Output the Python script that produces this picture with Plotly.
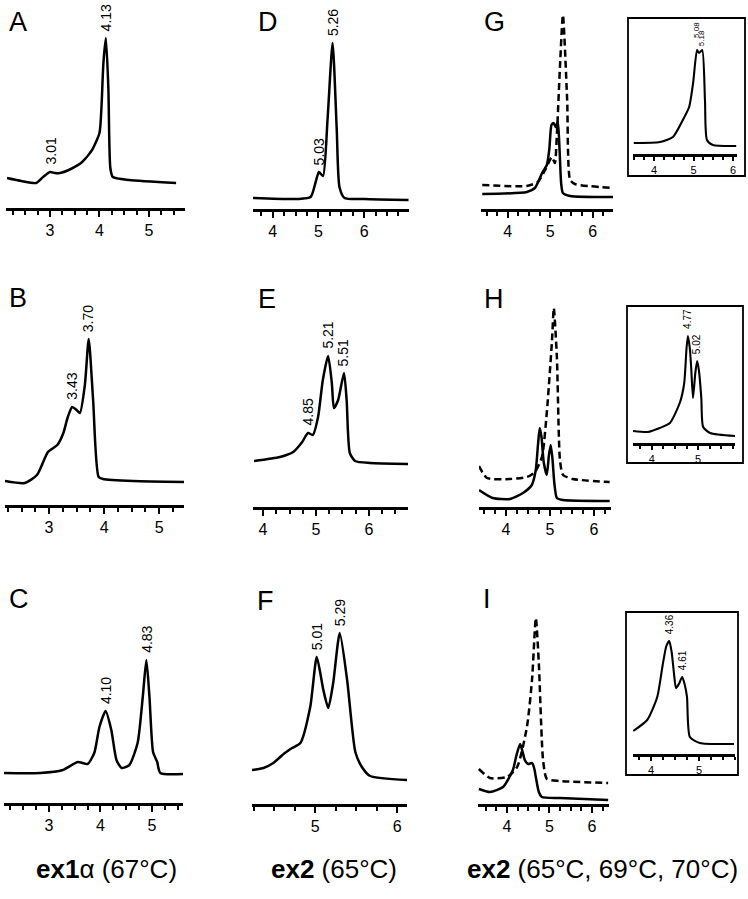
import plotly.graph_objects as go
import numpy as np

W, H = 748, 899

# ---------------- data (elution time vs. signal, arbitrary units) ----------------
# A: ex1α 67°C
A_x = [2.13, 2.42, 2.72, 2.86, 3.0, 3.1, 3.2, 3.42, 3.65, 3.85, 4.0, 4.04, 4.08, 4.13, 4.18, 4.22, 4.27, 4.6, 5.55]
A_y = [30, 27, 25, 31, 36, 35, 35, 39, 46, 58, 75, 100, 145, 170, 120, 40, 31, 28, 25]
A_labels = [(3.0, "3.01"), (4.13, "4.13")]

# B
B_x = [2.2, 2.56, 2.78, 2.98, 3.15, 3.26, 3.34, 3.42, 3.5, 3.56, 3.65, 3.72, 3.8, 3.9, 3.98, 4.53, 5.45]
B_y = [24, 22, 30, 53, 60, 72, 88, 98, 95, 92, 120, 166, 105, 28, 26, 24, 23]
B_labels = [(3.42, "3.43"), (3.72, "3.70")]

# C
C_x = [2.13, 2.83, 3.27, 3.56, 3.75, 3.88, 3.98, 4.1, 4.21, 4.31, 4.41, 4.56, 4.72, 4.82, 4.89, 4.95, 5.02, 5.1, 5.16, 5.6]
C_y = [30, 30, 33, 41, 39, 50, 76, 92, 73, 43, 35, 38, 60, 106, 143, 106, 51, 41, 30, 29]
C_labels = [(4.1, "4.10"), (4.89, "4.83")]

# D: ex2 65°C
D_x = [3.57, 4.54, 4.83, 4.94, 5.01, 5.1, 5.2, 5.31, 5.4, 5.46, 5.57, 6.01, 6.97]
D_y = [11, 10, 12, 27, 37, 33, 90, 166, 80, 22, 11, 10, 9]
D_labels = [(5.01, "5.03"), (5.31, "5.26")]

# E
E_x = [3.83, 4.32, 4.57, 4.74, 4.85, 4.94, 5.04, 5.13, 5.23, 5.30, 5.34, 5.42, 5.53, 5.58, 5.64, 5.74, 6.02, 6.74]
E_y = [46, 50, 55, 65, 74, 72, 90, 127, 151, 124, 99, 107, 134, 107, 54, 46, 44, 43]
E_labels = [(4.85, "4.85"), (5.23, "5.21"), (5.53, "5.51")]

# F
F_x = [4.23, 4.37, 4.49, 4.63, 4.72, 4.82, 4.94, 5.02, 5.10, 5.16, 5.22, 5.30, 5.39, 5.49, 5.57, 5.67, 6.12]
F_y = [34, 36, 41, 51, 56, 61, 97, 147, 114, 96, 121, 171, 124, 52, 37, 28, 24]
F_labels = [(5.02, "5.01"), (5.30, "5.29")]

# G: ex2 65°C (solid) / 69°C (dashed)
G_solid_x = [3.40, 4.45, 4.64, 4.81, 4.92, 4.98, 5.03, 5.08, 5.13, 5.18, 5.22, 5.26, 5.30, 5.47, 6.48]
G_solid_y = [15, 17, 21, 36, 44, 60, 84, 86, 82, 87, 60, 25, 16, 13, 12]
G_dash_x = [3.40, 4.45, 4.71, 4.88, 5.04, 5.11, 5.16, 5.23, 5.30, 5.40, 5.47, 5.58, 6.48]
G_dash_y = [24, 23, 27, 39, 52, 46, 76, 142, 194, 109, 29, 25, 21]
# G inset
Gi_x = [3.49, 4.15, 4.48, 4.73, 4.89, 4.99, 5.09, 5.14, 5.22, 5.29, 5.34, 5.49, 6.08]
Gi_y = [11, 12, 17, 34, 47, 71, 104, 101, 104, 54, 14, 9, 8]
Gi_labels = [(5.08, "5.08"), (5.22, "5.18")]

# H
H_solid_x = [3.39, 3.70, 4.09, 4.39, 4.59, 4.68, 4.73, 4.77, 4.81, 4.86, 4.93, 4.98, 5.02, 5.06, 5.10, 5.16, 5.30, 6.36]
H_solid_y = [17, 9, 8, 14, 22, 37, 62, 79, 70, 45, 32, 52, 62, 48, 25, 9, 7, 6]
H_dash_x = [3.39, 3.57, 4.09, 4.48, 4.66, 4.82, 4.93, 5.05, 5.09, 5.16, 5.23, 5.30, 5.52, 6.36]
H_dash_y = [41, 29, 28, 30, 35, 50, 94, 167, 199, 150, 47, 32, 28, 25]
# H inset
Hi_x = [3.59, 3.91, 4.17, 4.39, 4.61, 4.70, 4.75, 4.78, 4.82, 4.85, 4.89, 4.94, 4.98, 5.02, 5.07, 5.11, 5.26, 5.80]
Hi_y = [12, 11, 15, 20, 41, 60, 95, 107, 95, 76, 45, 70, 82, 72, 45, 16, 10, 7]
Hi_labels = [(4.78, "4.77"), (4.98, "5.02")]

# I
I_solid_x = [3.34, 3.60, 3.91, 4.14, 4.22, 4.31, 4.37, 4.42, 4.50, 4.59, 4.64, 4.68, 4.75, 4.82, 5.25, 6.38]
I_solid_y = [15, 12, 17, 34, 48, 60, 52, 44, 40, 41, 36, 27, 12, 7, 6, 4]
I_dash_x = [3.34, 3.60, 4.00, 4.24, 4.47, 4.59, 4.68, 4.75, 4.85, 4.94, 5.25, 6.38]
I_dash_y = [35, 26, 27, 37, 77, 124, 186, 141, 44, 25, 23, 21]
# I inset
Ii_x = [3.63, 3.92, 4.13, 4.25, 4.32, 4.38, 4.43, 4.48, 4.52, 4.58, 4.65, 4.70, 4.75, 4.81, 5.02, 5.73]
Ii_y = [23, 34, 57, 91, 108, 113, 102, 80, 66, 70, 77, 70, 57, 17, 11, 10]
Ii_labels = [(4.38, "4.36"), (4.65, "4.61")]

# --------------- panel geometry (pixels) ----------------
panels = [
    dict(px=(6, 185), axis=208, top=0, xr=(2.11, 5.73), tr=[(A_x, A_y, "solid")], lab=A_labels, letter=("A", 7, 5)),
    dict(px=(5, 184), axis=505, top=290, xr=(2.2, 5.45), tr=[(B_x, B_y, "solid")], lab=B_labels, letter=("B", 7, 281)),
    dict(px=(4, 183), axis=803, top=580, xr=(2.13, 5.6), tr=[(C_x, C_y, "solid")], lab=C_labels, letter=("C", 7, 582)),
    dict(px=(253, 409), axis=209, top=0, xr=(3.57, 6.98), tr=[(D_x, D_y, "solid")], lab=D_labels, letter=("D", 256, 5)),
    dict(px=(253, 408), axis=507, top=290, xr=(3.81, 6.74), tr=[(E_x, E_y, "solid")], lab=E_labels, letter=("E", 256, 282)),
    dict(px=(252, 407), axis=804, top=580, xr=(4.23, 6.12), tr=[(F_x, F_y, "solid")], lab=F_labels, letter=("F", 255, 584)),
    dict(px=(481, 613), axis=209, top=0, xr=(3.37, 6.48),
         tr=[(G_dash_x, G_dash_y, "dash"), (G_solid_x, G_solid_y, "solid")], lab=[], letter=("G", 482, 5)),
    dict(px=(479, 611), axis=507, top=290, xr=(3.39, 6.39),
         tr=[(H_dash_x, H_dash_y, "dash"), (H_solid_x, H_solid_y, "solid")], lab=[], letter=("H", 482, 282)),
    dict(px=(478, 609), axis=804, top=580, xr=(3.32, 6.4),
         tr=[(I_dash_x, I_dash_y, "dash"), (I_solid_x, I_solid_y, "solid")], lab=[], letter=("I", 481, 582)),
    # insets
    dict(px=(633, 737), axis=154, top=20, xr=(3.47, 6.1), tr=[(Gi_x, Gi_y, "solid")], lab=Gi_labels,
         inset=True, box=(628, 18, 745, 176), shifts=[13, 2], lsize=8),
    dict(px=(633, 735), axis=443, top=308, xr=(3.59, 5.8), tr=[(Hi_x, Hi_y, "solid")], lab=Hi_labels,
         inset=True, box=(627, 306, 743, 463), lsize=10),
    dict(px=(633, 735), axis=754, top=614, xr=(3.625, 5.75), tr=[(Ii_x, Ii_y, "solid")], lab=Ii_labels,
         inset=True, box=(626, 612, 738, 775), lsize=10),
]

FONT = "Liberation Sans, Arial, Helvetica, sans-serif"
fig = go.Figure()
layout = dict(width=W, height=H, margin=dict(l=0, r=0, t=0, b=0, pad=0),
              paper_bgcolor="white", plot_bgcolor="white", showlegend=False,
              font=dict(family=FONT, color="black"), annotations=[], shapes=[])

for i, p in enumerate(panels):
    n = i + 1
    sfx = "" if n == 1 else str(n)
    inset = p.get("inset", False)
    for (xs, ys, dash) in p["tr"]:
        fig.add_trace(go.Scatter(
            x=xs, y=ys, mode="lines", xaxis="x" + sfx, yaxis="y" + sfx,
            line=dict(color="black", width=2.1 if inset else 2.5, dash=("7px,4px" if dash == "dash" else "solid"),
                      shape="spline", smoothing=0.6),
            hoverinfo="skip"))
    yh = p["axis"] - p["top"]
    layout["xaxis" + sfx] = dict(
        domain=[p["px"][0] / W, p["px"][1] / W], anchor="y" + sfx, range=list(p["xr"]),
        showgrid=False, zeroline=False, showline=True, linecolor="black",
        linewidth=2.5 if inset else 3, ticks="outside", tick0=0, dtick=1,
        ticklen=4 if inset else 6, tickwidth=1.5, tickcolor="black",
        tickfont=dict(size=11 if inset else 16, family=FONT, color="black"),
        minor=dict(ticks="outside", dtick=0.25, tick0=0, ticklen=3 if inset else 4,
                   tickwidth=1.5, tickcolor="black", showgrid=False),
        fixedrange=True)
    layout["yaxis" + sfx] = dict(
        domain=[1 - p["axis"] / H, 1 - p["top"] / H], anchor="x" + sfx, range=[0, yh],
        visible=False, fixedrange=True)
    # peak labels
    shifts = p.get("shifts", [5] * len(p["lab"]))
    for (lx, txt), sh in zip(p["lab"], shifts):
        xs, ys = p["tr"][-1][0], p["tr"][-1][1]
        ly = float(np.interp(lx, xs, ys))
        layout["annotations"].append(dict(
            x=lx, y=ly, xref="x" + sfx, yref="y" + sfx, text=txt, showarrow=False,
            textangle=-90, xanchor="center", yanchor="bottom", yshift=sh,
            font=dict(size=p.get("lsize", 14), family=FONT, color="black")))
    if "letter" in p:
        t, lx, ly = p["letter"]
        layout["annotations"].append(dict(
            x=lx / W, y=1 - ly / H, xref="paper", yref="paper", text=t, showarrow=False,
            xanchor="left", yanchor="top", font=dict(size=27, family=FONT, color="black")))
    if inset:
        bx0, by0, bx1, by1 = p["box"]
        layout["shapes"].append(dict(type="rect", xref="paper", yref="paper",
                                     x0=bx0 / W, x1=bx1 / W, y0=1 - by1 / H, y1=1 - by0 / H,
                                     line=dict(color="black", width=1.8)))

titles = [("<b>ex1</b>α (67°C)", 107), ("<b>ex2</b> (65°C)", 334), ("<b>ex2</b> (65°C, 69°C, 70°C)", 602)]
for txt, cx in titles:
    layout["annotations"].append(dict(
        x=cx / W, y=1 - 869 / H, xref="paper", yref="paper", text=txt, showarrow=False,
        xanchor="center", yanchor="middle", font=dict(size=26, family=FONT, color="black")))

fig.update_layout(**layout)
fig.write_html("out.html", config={"displayModeBar": False},
               post_script="document.body.style.margin='0';")
